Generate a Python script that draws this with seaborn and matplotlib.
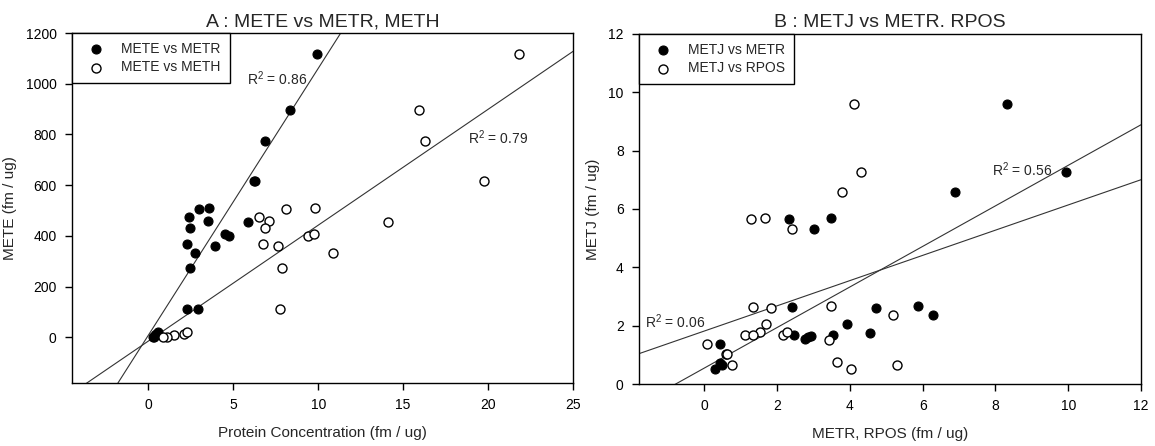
import numpy as np
import seaborn as sns
import matplotlib.pyplot as plt

# Panel A : METE vs METR / METH (fm / ug)
metr_a_x = [9.92, 8.31, 6.86, 6.27, 6.20, 2.98, 3.55, 2.37, 3.49, 2.45, 5.86, 4.53, 4.72,
            2.25, 3.94, 2.76, 2.45, 2.29, 2.94, 0.35, 0.45, 0.55, 0.40, 0.30]
metr_a_y = [1119, 898, 776, 615, 618, 505, 510, 473, 458, 433, 454, 408, 400,
            367, 362, 334, 272, 112, 112, 1, 12, 21, 11, 1]
meth_a_x = [21.8, 15.96, 16.29, 19.76, 8.1, 9.8, 6.49, 7.12, 6.86, 14.1, 9.37, 9.76,
            6.73, 7.63, 10.86, 7.86, 7.75, 1.49, 1.1, 2.08, 2.27, 0.84]
meth_a_y = [1119, 898, 776, 615, 505, 510, 473, 458, 433, 454, 400, 408,
            367, 362, 334, 272, 112, 11, 1, 12, 21, 1]

# Panel B : METJ vs METR / RPOS (fm / ug)
metr_b_x = [8.31, 9.95, 6.88, 2.33, 3.49, 3.0, 2.42, 4.71, 5.87, 6.28, 3.93, 4.55,
            2.46, 3.52, 2.92, 2.76, 2.85, 0.44, 0.30, 0.44, 0.49]
metr_b_y = [9.61, 7.27, 6.59, 5.66, 5.69, 5.30, 2.65, 2.62, 2.69, 2.37, 2.05, 1.76,
            1.69, 1.69, 1.65, 1.53, 1.60, 1.37, 0.51, 0.71, 0.65]
rpos_b_x = [4.12, 4.30, 3.79, 1.27, 1.66, 2.40, 1.34, 1.82, 3.49, 5.18, 1.68, 1.52,
            1.11, 1.33, 2.17, 2.26, 3.43, 0.07, 0.58, 0.62, 0.76, 3.63, 4.04, 5.28]
rpos_b_y = [9.61, 7.27, 6.59, 5.66, 5.69, 5.30, 2.65, 2.62, 2.69, 2.37, 2.05, 1.79,
            1.69, 1.67, 1.69, 1.79, 1.51, 1.37, 1.03, 1.03, 0.65, 0.75, 0.50, 0.65]

sns.set_style('ticks')
plt.rcParams['font.family'] = ['Liberation Sans', 'DejaVu Sans']
plt.rcParams['xtick.direction'] = 'out'
plt.rcParams['ytick.direction'] = 'out'

fig = plt.figure(figsize=(11.55, 4.46), dpi=100)
ax_a = fig.add_axes([0.0623, 0.1413, 0.4338, 0.7847])
ax_b = fig.add_axes([0.5532, 0.1390, 0.4347, 0.7848])

line_kws = dict(color='0.2', lw=0.8)


# Nuage de points + droites de régression pour un panneau
def panel(ax, xs, ys, labels, xlim, ylim):
    ax.set_xlim(*xlim)
    ax.set_ylim(*ylim)
    # les droites vont jusqu'aux bords des axes
    for x, y in zip(xs, ys):
        sns.regplot(x=np.array(x), y=np.array(y), ax=ax, scatter=False, ci=None,
                    truncate=False, line_kws=line_kws)
    sns.scatterplot(x=xs[0], y=ys[0], ax=ax, color='black', edgecolor='black',
                    s=42, linewidth=0.8, label=labels[0], zorder=3)
    sns.scatterplot(x=xs[1], y=ys[1], ax=ax, color='white', edgecolor='black',
                    s=42, linewidth=1.0, label=labels[1], zorder=3)
    ax.set_xlim(*xlim)
    ax.set_ylim(*ylim)
    for sp in ax.spines.values():
        sp.set_visible(True)
        sp.set_color('black')
        sp.set_linewidth(1.0)
    ax.tick_params(length=5, width=1, labelsize=10, colors='black', pad=6)
    leg = ax.legend(loc='upper left', borderaxespad=0, fancybox=False, framealpha=1,
                    edgecolor='black', fontsize=10, handletextpad=0.7, borderpad=0.65,
                    labelspacing=0.3, handlelength=2.2)
    leg.get_frame().set_linewidth(1.0)


panel(ax_a, [metr_a_x, meth_a_x], [metr_a_y, meth_a_y],
      ['METE vs METR', 'METE vs METH'], (-4.5, 25), (-180, 1200))
ax_a.set_xticks([0, 5, 10, 15, 20, 25])
ax_a.set_yticks([0, 200, 400, 600, 800, 1000, 1200])
ax_a.set_title('A : METE vs METR, METH', fontsize=14, pad=5)
ax_a.set_xlabel('Protein Concentration (fm / ug)', fontsize=11, labelpad=10)
ax_a.set_ylabel('METE (fm / ug)', fontsize=11, labelpad=6)
ax_a.text(5.8, 1018, '$\\mathregular{R^2}$ = 0.86', fontsize=10, va='center')
ax_a.text(18.8, 789, '$\\mathregular{R^2}$ = 0.79', fontsize=10, va='center')

panel(ax_b, [metr_b_x, rpos_b_x], [metr_b_y, rpos_b_y],
      ['METJ vs METR', 'METJ vs RPOS'], (-1.8, 12), (0, 12))
ax_b.set_xticks([0, 2, 4, 6, 8, 10, 12])
ax_b.set_yticks([0, 2, 4, 6, 8, 10, 12])
ax_b.set_title('B : METJ vs METR. RPOS', fontsize=14, pad=5)
ax_b.set_xlabel('METR, RPOS (fm / ug)', fontsize=11, labelpad=10)
ax_b.set_ylabel('METJ (fm / ug)', fontsize=11, labelpad=6)
ax_b.text(7.9, 7.34, '$\\mathregular{R^2}$ = 0.56', fontsize=10, va='center')
ax_b.text(-1.62, 2.13, '$\\mathregular{R^2}$ = 0.06', fontsize=10, va='center')

fig.savefig('out.png', dpi=100)
